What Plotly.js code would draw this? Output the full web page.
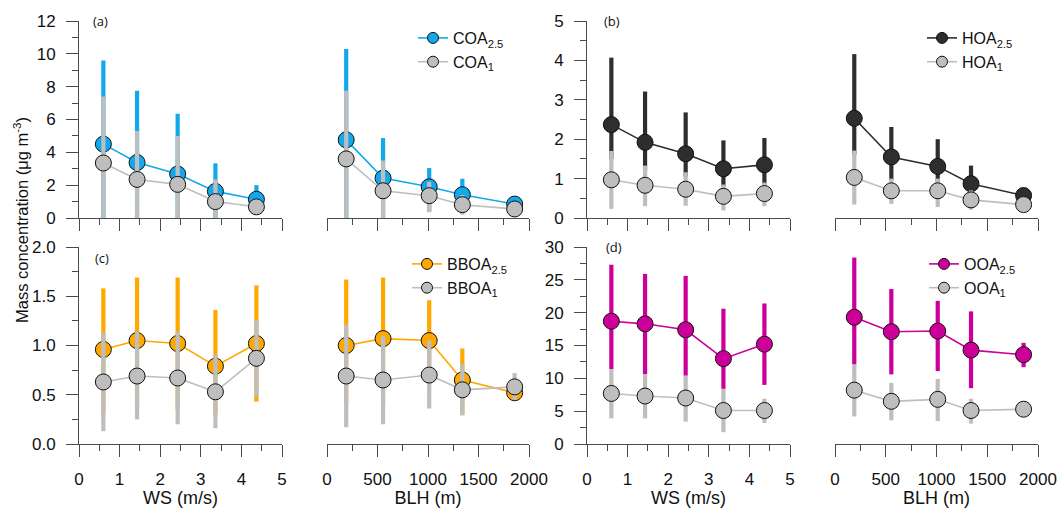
<!DOCTYPE html>
<html>
<head>
<meta charset="utf-8">
<script src="https://cdn.plot.ly/plotly-3.0.1.min.js"></script>
<style>html,body{margin:0;padding:0;background:#fff;}#chart{width:1063px;height:508px;}</style>
</head>
<body>
<div id="chart"></div>
<script>
// ---------- data ----------
const WS  = [0.6, 1.43, 2.43, 3.36, 4.37];
const BLH = [190, 555, 1012, 1340, 1858];

// (a) COA
const COA25_ws      = [4.50, 3.38, 2.68, 1.62, 1.14];
const COA25_ws_hi   = [9.60, 7.75, 6.35, 3.33, 2.00];
const COA25_ws_lo   = [-0.2, -0.2, -0.2, -0.2, 0.30];
const COA1_ws       = [3.35, 2.35, 2.05, 1.00, 0.68];
const COA1_ws_hi    = [7.40, 5.30, 5.00, 2.35, 1.10];
const COA1_ws_lo    = [-0.2, -0.2, -0.2, -0.2, 0.25];
const COA25_blh     = [4.76, 2.43, 1.90, 1.42, 0.85];
const COA25_blh_hi  = [10.3, 4.87, 3.04, 2.39, 1.00];
const COA25_blh_lo  = [-0.2, -0.2, 0.40, 0.40, 0.50];
const COA1_blh      = [3.60, 1.66, 1.36, 0.81, 0.55];
const COA1_blh_hi   = [7.75, 3.50, 2.20, 1.40, 0.80];
const COA1_blh_lo   = [-0.2, -0.2, 0.35, 0.20, 0.35];

// (b) HOA
const HOA25_ws      = [2.37, 1.92, 1.63, 1.25, 1.35];
const HOA25_ws_hi   = [4.07, 3.21, 2.68, 1.97, 2.03];
const HOA25_ws_lo   = [1.50, 1.20, 1.05, 0.80, 0.85];
const HOA1_ws       = [0.97, 0.83, 0.73, 0.55, 0.62];
const HOA1_ws_hi    = [1.70, 1.33, 1.16, 0.85, 0.90];
const HOA1_ws_lo    = [0.23, 0.30, 0.31, 0.19, 0.30];
const HOA25_blh     = [2.53, 1.55, 1.31, 0.87, 0.57];
const HOA25_blh_hi  = [4.16, 2.31, 2.00, 1.33, 0.65];
const HOA25_blh_lo  = [1.60, 0.95, 0.90, 0.60, 0.50];
const HOA1_blh      = [1.03, 0.69, 0.69, 0.46, 0.34];
const HOA1_blh_hi   = [1.71, 1.00, 1.00, 0.70, 0.45];
const HOA1_blh_lo   = [0.34, 0.36, 0.28, 0.21, 0.30];

// (c) BBOA
const BBOA25_ws     = [0.96, 1.05, 1.02, 0.79, 1.02];
const BBOA25_ws_hi  = [1.58, 1.69, 1.69, 1.36, 1.61];
const BBOA25_ws_lo  = [0.30, 0.35, 0.35, 0.30, 0.43];
const BBOA1_ws      = [0.63, 0.69, 0.67, 0.53, 0.87];
const BBOA1_ws_hi   = [1.13, 1.14, 1.14, 0.91, 1.26];
const BBOA1_ws_lo   = [0.13, 0.25, 0.20, 0.16, 0.48];
const BBOA25_blh    = [1.00, 1.07, 1.05, 0.65, 0.52];
const BBOA25_blh_hi = [1.67, 1.69, 1.46, 0.97, 0.60];
const BBOA25_blh_lo = [0.40, 0.40, 0.60, 0.30, 0.45];
const BBOA1_blh     = [0.69, 0.65, 0.70, 0.55, 0.58];
const BBOA1_blh_hi  = [1.21, 1.10, 1.05, 0.81, 0.72];
const BBOA1_blh_lo  = [0.17, 0.20, 0.36, 0.29, 0.45];

// (d) OOA
const OOA25_ws      = [18.7, 18.3, 17.4, 13.0, 15.2];
const OOA25_ws_hi   = [27.3, 25.9, 25.6, 20.6, 21.4];
const OOA25_ws_lo   = [11.4, 10.6, 10.4, 8.4, 9.0];
const OOA1_ws       = [7.7, 7.3, 7.0, 5.1, 5.1];
const OOA1_ws_hi    = [11.4, 10.6, 10.4, 8.4, 6.9];
const OOA1_ws_lo    = [3.9, 3.9, 3.4, 1.8, 3.2];
const OOA25_blh     = [19.3, 17.1, 17.2, 14.3, 13.6];
const OOA25_blh_hi  = [28.4, 23.6, 21.8, 20.2, 15.4];
const OOA25_blh_lo  = [12.1, 10.6, 11.1, 8.5, 11.7];
const OOA1_blh      = [8.2, 6.5, 6.8, 5.1, 5.3];
const OOA1_blh_hi   = [12.1, 9.3, 9.9, 6.9, 5.5];
const OOA1_blh_lo   = [4.2, 3.6, 3.5, 3.1, 5.0];

const NAMES = {
  COA:  ['COA<sub>2.5</sub>', 'COA<sub>1</sub>'],
  HOA:  ['HOA<sub>2.5</sub>', 'HOA<sub>1</sub>'],
  BBOA: ['BBOA<sub>2.5</sub>', 'BBOA<sub>1</sub>'],
  OOA:  ['OOA<sub>2.5</sub>', 'OOA<sub>1</sub>']
};

// ---------- style ----------
const FONT = "'Liberation Sans', Arial, Helvetica, sans-serif";
const GREY = '#BEBEBE';
const COLORS = {COA: '#12A8EC', HOA: '#2E2E2E', BBOA: '#FFA800', OOA: '#CC0099'};
const AX = '#4a4a4a';

function tr(x, y, lo, hi, color, name, xa, ya) {
  return {
    type: 'scatter', mode: 'lines+markers', x: x, y: y, name: name,
    xaxis: xa, yaxis: ya, showlegend: false, cliponaxis: false,
    line: {color: color, width: 1.6},
    marker: {color: color, size: 16, line: {color: '#111', width: 1}},
    error_y: {type: 'data', symmetric: false,
              array: hi.map((v, i) => v - y[i]),
              arrayminus: y.map((v, i) => v - lo[i]),
              color: color, thickness: 4.2, width: 0}
  };
}
// legend-only entries (no data)
function legTr(color, name, xa, ya, legend) {
  return {
    type: 'scatter', mode: 'lines+markers', x: [null], y: [null], name: name,
    xaxis: xa, yaxis: ya, legend: legend, showlegend: true,
    line: {color: color, width: 1.6},
    marker: {color: color, size: 11, line: {color: '#111', width: 1}}
  };
}

const traces = [];
function panel(key, d, axWS, axBLH, legend) {
  const c = COLORS[key];
  traces.push(tr(WS, d.p25ws, d.p25wsLo, d.p25wsHi, c, NAMES[key][0], axWS[0], axWS[1]));
  traces.push(tr(WS, d.p1ws, d.p1wsLo, d.p1wsHi, GREY, NAMES[key][1], axWS[0], axWS[1]));
  traces.push(tr(BLH, d.p25blh, d.p25blhLo, d.p25blhHi, c, NAMES[key][0], axBLH[0], axBLH[1]));
  traces.push(tr(BLH, d.p1blh, d.p1blhLo, d.p1blhHi, GREY, NAMES[key][1], axBLH[0], axBLH[1]));
  traces.push(legTr(c, NAMES[key][0], axBLH[0], axBLH[1], legend));
  traces.push(legTr(GREY, NAMES[key][1], axBLH[0], axBLH[1], legend));
}
panel('COA', {p25ws: COA25_ws, p25wsLo: COA25_ws_lo, p25wsHi: COA25_ws_hi,
  p1ws: COA1_ws, p1wsLo: COA1_ws_lo, p1wsHi: COA1_ws_hi,
  p25blh: COA25_blh, p25blhLo: COA25_blh_lo, p25blhHi: COA25_blh_hi,
  p1blh: COA1_blh, p1blhLo: COA1_blh_lo, p1blhHi: COA1_blh_hi}, ['x', 'y'], ['x2', 'y2'], 'legend');
panel('HOA', {p25ws: HOA25_ws, p25wsLo: HOA25_ws_lo, p25wsHi: HOA25_ws_hi,
  p1ws: HOA1_ws, p1wsLo: HOA1_ws_lo, p1wsHi: HOA1_ws_hi,
  p25blh: HOA25_blh, p25blhLo: HOA25_blh_lo, p25blhHi: HOA25_blh_hi,
  p1blh: HOA1_blh, p1blhLo: HOA1_blh_lo, p1blhHi: HOA1_blh_hi}, ['x3', 'y3'], ['x4', 'y4'], 'legend2');
panel('BBOA', {p25ws: BBOA25_ws, p25wsLo: BBOA25_ws_lo, p25wsHi: BBOA25_ws_hi,
  p1ws: BBOA1_ws, p1wsLo: BBOA1_ws_lo, p1wsHi: BBOA1_ws_hi,
  p25blh: BBOA25_blh, p25blhLo: BBOA25_blh_lo, p25blhHi: BBOA25_blh_hi,
  p1blh: BBOA1_blh, p1blhLo: BBOA1_blh_lo, p1blhHi: BBOA1_blh_hi}, ['x5', 'y5'], ['x6', 'y6'], 'legend3');
panel('OOA', {p25ws: OOA25_ws, p25wsLo: OOA25_ws_lo, p25wsHi: OOA25_ws_hi,
  p1ws: OOA1_ws, p1wsLo: OOA1_ws_lo, p1wsHi: OOA1_ws_hi,
  p25blh: OOA25_blh, p25blhLo: OOA25_blh_lo, p25blhHi: OOA25_blh_hi,
  p1blh: OOA1_blh, p1blhLo: OOA1_blh_lo, p1blhHi: OOA1_blh_hi}, ['x7', 'y7'], ['x8', 'y8'], 'legend4');

const W = 1063, H = 508;
const colDom = [[79, 282], [327, 529], [587, 790], [835, 1038]].map(a => [a[0] / W, a[1] / W]);
const rowDom = [[21, 218], [247, 444]].map(a => [(H - a[1]) / H, (H - a[0]) / H]);

function xaxis(col, row, isWS, yname) {
  const a = {
    domain: colDom[col], anchor: yname, range: isWS ? [0, 5] : [0, 2000],
    dtick: isWS ? 1 : 500, tick0: 0, showgrid: false, zeroline: false,
    showline: true, linecolor: AX, linewidth: 1,
    ticks: 'outside', ticklen: 12, tickwidth: 1, tickcolor: AX,
    minor: {dtick: isWS ? 0.5 : 250, ticks: 'outside', ticklen: 6, tickcolor: AX, showgrid: false},
    showticklabels: row === 1, ticklabelstandoff: 8,
    tickfont: {family: FONT, size: 17, color: '#111'}, fixedrange: true
  };
  if (row === 1) a.title = {text: isWS ? 'WS (m/s)' : 'BLH (m)', font: {family: FONT, size: 18, color: '#111'}, standoff: 5};
  return a;
}
function yaxis(col, row, rng, dt, mdt, fmt, xname, show) {
  return {
    domain: rowDom[row], anchor: xname, range: rng, dtick: dt, tick0: 0,
    showgrid: false, zeroline: false, showline: show, linecolor: AX, linewidth: 1,
    ticks: show ? 'outside' : '', ticklen: 12, tickwidth: 1, tickcolor: AX,
    minor: show ? {dtick: mdt, ticks: 'outside', ticklen: 6, tickcolor: AX, showgrid: false} : undefined,
    showticklabels: show, tickformat: fmt, ticklabelstandoff: 7,
    tickfont: {family: FONT, size: 17, color: '#111'}, fixedrange: true
  };
}

const layout = {
  width: W, height: H, margin: {l: 0, r: 0, t: 0, b: 0},
  paper_bgcolor: '#fff', plot_bgcolor: 'rgba(0,0,0,0)',
  font: {family: FONT, size: 16, color: '#111'},
  xaxis:  xaxis(0, 0, true, 'y'),
  yaxis:  yaxis(0, 0, [0, 12], 2, 1, 'd', 'x', true),
  xaxis2: xaxis(1, 0, false, 'y2'),
  yaxis2: yaxis(1, 0, [0, 12], 2, 1, 'd', 'x2', false),
  xaxis3: xaxis(2, 0, true, 'y3'),
  yaxis3: yaxis(2, 0, [0, 5], 1, 0.5, 'd', 'x3', true),
  xaxis4: xaxis(3, 0, false, 'y4'),
  yaxis4: yaxis(3, 0, [0, 5], 1, 0.5, 'd', 'x4', false),
  xaxis5: xaxis(0, 1, true, 'y5'),
  yaxis5: yaxis(0, 1, [0, 2], 0.5, 0.25, '.1f', 'x5', true),
  xaxis6: xaxis(1, 1, false, 'y6'),
  yaxis6: yaxis(1, 1, [0, 2], 0.5, 0.25, '.1f', 'x6', false),
  xaxis7: xaxis(2, 1, true, 'y7'),
  yaxis7: yaxis(2, 1, [0, 30], 5, 2.5, 'd', 'x7', true),
  xaxis8: xaxis(3, 1, false, 'y8'),
  yaxis8: yaxis(3, 1, [0, 30], 5, 2.5, 'd', 'x8', false),
  annotations: [
    {text: '(a)', x: 100 / W, y: 1 - 21 / H},
    {text: '(b)', x: 612 / W, y: 1 - 21 / H},
    {text: '(c)', x: 102 / W, y: 1 - 258 / H},
    {text: '(d)', x: 614 / W, y: 1 - 247 / H}
  ].map(a => Object.assign(a, {xref: 'paper', yref: 'paper', showarrow: false,
        xanchor: 'center', yanchor: 'middle', font: {family: "'Open Sans', sans-serif", size: 13, color: '#111'}}))
    .concat([{text: 'Mass concentration (μg m<sup>-3</sup>)', xref: 'paper', yref: 'paper',
      x: 21 / W, y: 1 - 220 / H, textangle: -90, showarrow: false, xanchor: 'center', yanchor: 'middle',
      font: {family: FONT, size: 16.5, color: '#111'}}])
};
function leg(x, y) {
  return {x: x / W, y: 1 - y / H, xanchor: 'left', yanchor: 'top', bgcolor: 'rgba(0,0,0,0)',
          borderwidth: 0, itemsizing: 'trace', tracegroupgap: 0,
          font: {family: FONT, size: 16, color: '#111'}};
}
layout.legend  = leg(413, 21);
layout.legend2 = leg(922, 21);
layout.legend3 = leg(407, 247);
layout.legend4 = leg(924, 247);

Plotly.newPlot('chart', traces, layout, {displayModeBar: false, staticPlot: true});
</script>
</body>
</html>
